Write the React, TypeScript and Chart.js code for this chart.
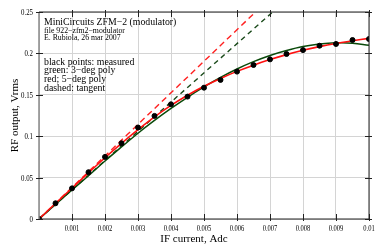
import React, { useEffect, useRef } from "react";
import { Chart, registerables } from "chart.js";

Chart.register(...registerables);

// measured points (IF current in A, RF output in Vrms)
const measX = [0, 0.0005, 0.001, 0.0015, 0.002, 0.0025, 0.003, 0.0035, 0.004, 0.0045, 0.005, 0.0055, 0.006, 0.0065, 0.007, 0.0075, 0.008, 0.0085, 0.009, 0.0095, 0.01];
const measY = [0, 0.019, 0.037, 0.0565, 0.075, 0.0915, 0.1105, 0.1245, 0.1385, 0.1478, 0.1586, 0.168, 0.178, 0.186, 0.1928, 0.1993, 0.204, 0.2093, 0.2114, 0.2162, 0.2174];

// fitted curves
const fitX = [0, 0.0005, 0.001, 0.0015, 0.002, 0.0025, 0.003, 0.0035, 0.004, 0.0045, 0.005, 0.0055, 0.006, 0.0065, 0.007, 0.0075, 0.008, 0.0085, 0.009, 0.0095, 0.01];
const green3 = [0, 0.0177, 0.0351, 0.0523, 0.0700, 0.0870, 0.1036, 0.1190, 0.1335, 0.1470, 0.1595, 0.1710, 0.1812, 0.1900, 0.1975, 0.2035, 0.2083, 0.2113, 0.2128, 0.2124, 0.2097];
const red5 = [0, 0.0188, 0.0373, 0.0558, 0.0740, 0.0913, 0.1078, 0.1233, 0.1372, 0.1495, 0.1603, 0.1698, 0.1783, 0.1858, 0.1925, 0.1985, 0.2037, 0.2082, 0.2120, 0.2152, 0.2182];

// tangents at origin
const tangentX = [0, 0.01];
const redTangent = [0, 0.381];
const greenTangent = [0, 0.353];

const noteTop = ["MiniCircuits ZFM\u22122 (modulator)", "file 922\u2212zfm2\u2212modulator", "E. Rubiola, 26 mar 2007"];
const noteLegend = ["black points: measured", "green: 3\u2212deg poly", "red; 5\u2212deg poly", "dashed: tangent"];
const xTitle = "IF current, Adc";
const yTitle = "RF output, Vrms";

const xTicks = [0.001, 0.002, 0.003, 0.004, 0.005, 0.006, 0.007, 0.008, 0.009, 0.01];
const xTickLabels = ["0.001", "0.002", "0.003", "0.004", "0.005", "0.006", "0.007", "0.008", "0.009", "0.01"];
const yTicks = [0, 0.05, 0.1, 0.15, 0.2, 0.25];
const yTickLabels = ["0", "0.05", "0.1", "0.15", "0.2", "0.25"];

const FONT = "'Liberation Serif', 'Times New Roman', serif";

const pts = (xs: number[], ys: number[]) => xs.map((x, i) => ({ x, y: ys[i] }));

const drawText = (ctx: any, text: string, x: number, y: number, font: string, sx: number, align: string, baseline: string) => {
  ctx.save();
  ctx.font = font;
  ctx.textAlign = align;
  ctx.textBaseline = baseline;
  ctx.translate(x, y);
  ctx.scale(sx, 1);
  ctx.fillText(text, 0, 0);
  ctx.restore();
};

const decor = {
  id: "decor",
  afterDraw(chart: any) {
    const { ctx, chartArea: a, scales } = chart;
    ctx.save();
    // border
    ctx.strokeStyle = "#222";
    ctx.lineWidth = 1;
    ctx.beginPath();
    ctx.moveTo(a.left, a.top);
    ctx.lineTo(a.right, a.top);
    ctx.lineTo(a.right, a.bottom);
    ctx.lineTo(a.left, a.bottom);
    ctx.stroke();
    ctx.strokeStyle = "#888";
    ctx.lineWidth = 1.5;
    ctx.beginPath();
    ctx.moveTo(a.left, a.top);
    ctx.lineTo(a.left, a.bottom);
    ctx.stroke();
    // tick marks
    ctx.strokeStyle = "#222";
    ctx.lineWidth = 1;
    ctx.beginPath();
    for (const v of xTicks) {
      const px = Math.round(scales.x.getPixelForValue(v)) + 0.5;
      ctx.moveTo(px, a.bottom - 5);
      ctx.lineTo(px, a.bottom + 2);
      ctx.moveTo(px, a.top - 2);
      ctx.lineTo(px, a.top + 5);
    }
    for (const v of yTicks) {
      const py = Math.round(scales.y.getPixelForValue(v)) + 0.5;
      ctx.moveTo(a.left - 3, py);
      ctx.lineTo(a.left + 4, py);
      ctx.moveTo(a.right - 4, py);
      ctx.lineTo(a.right + 3, py);
    }
    ctx.stroke();
    ctx.fillStyle = "#000";
    // tick labels
    const tf = `8.8px ${FONT}`;
    xTicks.forEach((v, i) => drawText(ctx, xTickLabels[i], scales.x.getPixelForValue(v), a.bottom + 12, tf, 0.74, "center", "alphabetic"));
    yTicks.forEach((v, i) => drawText(ctx, yTickLabels[i], a.left - 6, scales.y.getPixelForValue(v) + 3, tf, 0.78, "right", "alphabetic"));
    // notes
    const x0 = a.left + 5;
    drawText(ctx, noteTop[0], x0, a.top + 13, `9.8px ${FONT}`, 1, "left", "alphabetic");
    drawText(ctx, noteTop[1], x0, a.top + 20.5, `7.8px ${FONT}`, 1, "left", "alphabetic");
    drawText(ctx, noteTop[2], x0, a.top + 28, `7.8px ${FONT}`, 1, "left", "alphabetic");
    noteLegend.forEach((t, i) => drawText(ctx, t, x0, a.top + 52.5 + i * 8.7, `9.8px ${FONT}`, 1, "left", "alphabetic"));
    // axis titles
    drawText(ctx, xTitle, (a.left + a.right) / 2 - 10, 241.5, `11px ${FONT}`, 1, "center", "alphabetic");
    ctx.save();
    ctx.translate(17.5, (a.top + a.bottom) / 2);
    ctx.rotate(-Math.PI / 2);
    drawText(ctx, yTitle, 0, 0, `11px ${FONT}`, 1, "center", "alphabetic");
    ctx.restore();
    ctx.restore();
  },
};

export default function App() {
  const ref = useRef<HTMLCanvasElement>(null);
  useEffect(() => {
    const chart = new Chart(ref.current!, {
      type: "scatter",
      data: {
        datasets: [
          { data: pts(measX, measY), backgroundColor: "#000", borderColor: "#000", pointRadius: 2.5, showLine: false, order: 0 },
          { data: pts(fitX, red5), borderColor: "#ff1010", borderWidth: 1.6, pointRadius: 0, showLine: true, tension: 0.4, order: 1 },
          { data: pts(fitX, green3), borderColor: "#0a4a0a", borderWidth: 1.5, pointRadius: 0, showLine: true, tension: 0.4, order: 2 },
          { data: pts(tangentX, redTangent), borderColor: "#ff2020", borderWidth: 1.4, borderDash: [6, 4], pointRadius: 0, showLine: true, order: 3 },
          { data: pts(tangentX, greenTangent), borderColor: "#1a4a1a", borderWidth: 1.4, borderDash: [5, 4], pointRadius: 0, showLine: true, order: 4 },
        ],
      },
      options: {
        animation: false,
        responsive: false,
        maintainAspectRatio: false,
        layout: { padding: { left: 0, right: 9, top: 12, bottom: 0 } },
        plugins: { legend: { display: false }, tooltip: { enabled: false } },
        scales: {
          x: {
            type: "linear",
            min: 0,
            max: 0.01,
            border: { display: false },
            grid: { color: "#d4d4d4", lineWidth: 1, drawTicks: false },
            ticks: { stepSize: 0.001, autoSkip: false, display: false },
            title: { display: false },
            afterFit: (s: any) => { s.height = 33; },
          },
          y: {
            type: "linear",
            min: 0,
            max: 0.25,
            border: { display: false },
            grid: { color: "#d4d4d4", lineWidth: 1, drawTicks: false },
            ticks: { stepSize: 0.05, display: false },
            title: { display: false },
            afterFit: (s: any) => { s.width = 39; },
          },
        },
      },
      plugins: [decor],
    } as any);
    return () => chart.destroy();
  }, []);
  return (
    <div style={{ position: "fixed", left: 0, top: 0, width: 378, height: 252, background: "#fff" }}>
      <canvas ref={ref} width={378} height={252} style={{ width: 378, height: 252 }} />
    </div>
  );
}
